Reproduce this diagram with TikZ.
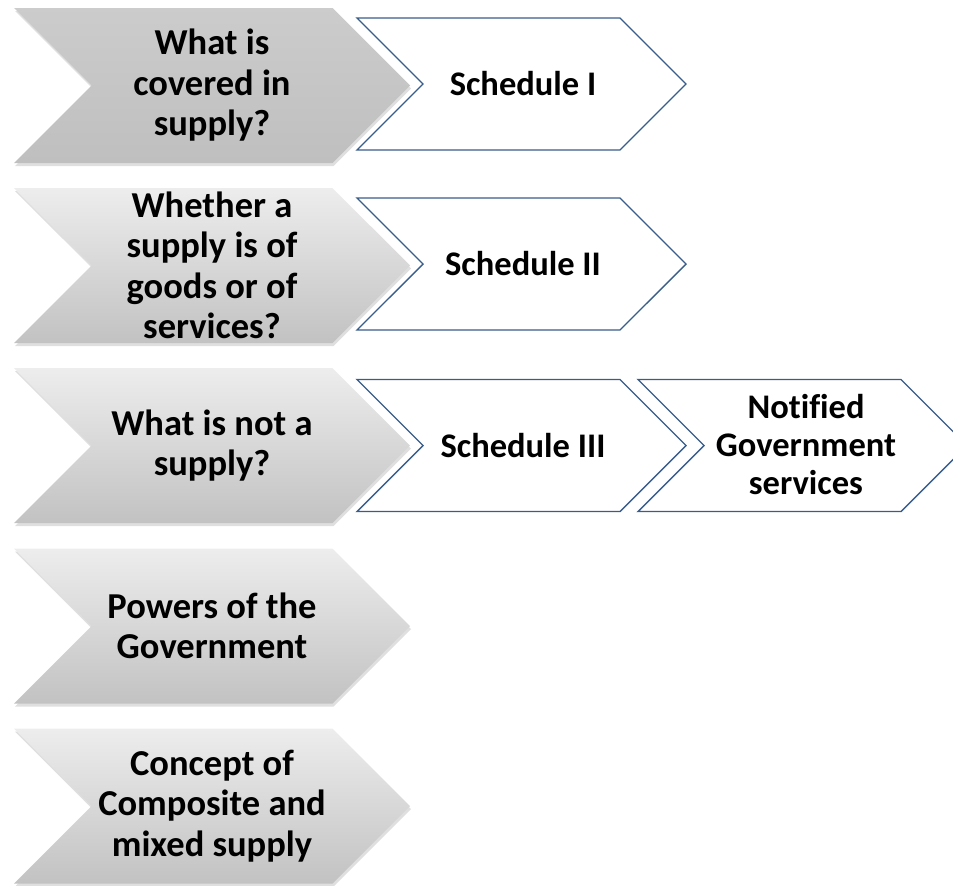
\documentclass[tikz,border=0pt]{standalone}
\usepackage{fontspec}
\setmainfont{Carlito}[Ligatures=NoCommon]
\usetikzlibrary{shapes.symbols,shadows}

\definecolor{chevblue}{HTML}{385D8A}
\definecolor{greytop}{HTML}{EDEDED}
\definecolor{greybot}{HTML}{C2C2C2}
\definecolor{greysel}{HTML}{BFBFBF}

\begin{document}
\begin{tikzpicture}[x=1pt, y=-1pt]
            \tikzstyle{topic} = [signal, signal from=west, signal to=east, signal pointer angle=90, minimum width=396pt, minimum height=155pt, inner sep=0pt, top color=greytop, bottom color=greybot, drop shadow={opacity=0.25, shadow xshift=1pt, shadow yshift=-3pt}, align=center, font=\fontsize{36.5}{40.5}\selectfont\bfseries]
            \tikzstyle{detail} = [signal, signal from=west, signal to=east, signal pointer angle=90, minimum width=329pt, minimum height=132pt, inner sep=0pt, draw=chevblue, line width=1.4pt, fill=white]
            \tikzstyle{detailtext} = [align=center, font=\fontsize{34.5}{38}\selectfont\bfseries]

            \useasboundingbox (0,0) rectangle (953,886);
            \clip (0,0) rectangle (953,886);

            % Left column
            \node (covered) [topic, top color=greysel!80!white, bottom color=greysel] at (212,85.5) {What is\\covered in\\supply?};
            \node (goods) [topic] at (212,265.5) {Whether a\\supply is of\\goods or of\\services?};
            \node (notsupply) [topic] at (212,445.5) {What is not a\\supply?};
            \node (powers) [topic] at (212,626) {Powers of the\\Government};
            \node (composite) [topic] at (212,806) {Concept of\\Composite and\\mixed supply};

            % Schedules
            \node (sched1) [detail] at (521.5,84) {};
            \node (sched1text) [detailtext] at (523,84) {Schedule I};
            \node (sched2) [detail] at (521.5,264) {};
            \node (sched2text) [detailtext] at (523,264) {Schedule II};
            \node (sched3) [detail] at (521.5,445.5) {};
            \node (sched3text) [detailtext] at (523,445.5) {Schedule III};
            \node (govt) [detail] at (802.5,445.5) {};
            \node (govttext) [detailtext] at (806,445) {Notified\\Government\\services};
        \end{tikzpicture}
\end{document}
